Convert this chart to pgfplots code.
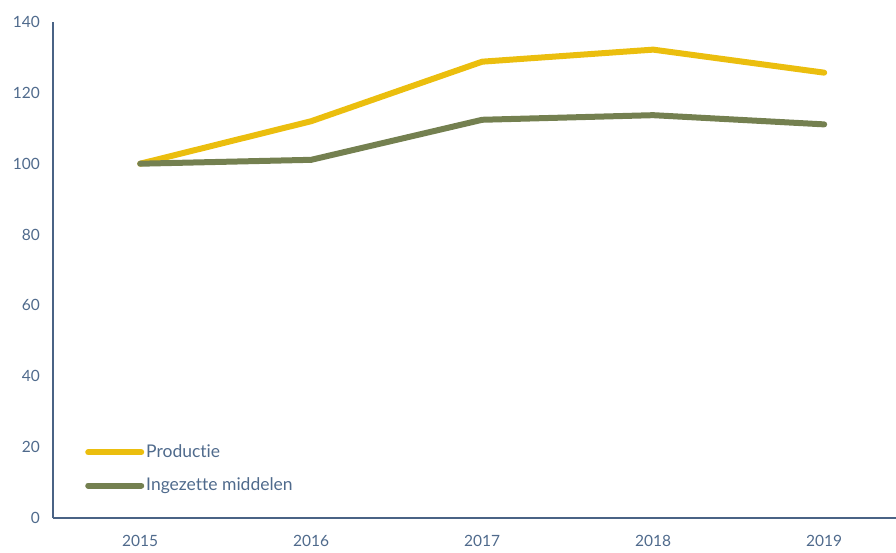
\documentclass[border=0pt]{standalone}
\usepackage{pgfplots}
\pgfplotsset{compat=1.18}
\usepackage{fontspec}
\setmainfont{Lato}[RawFeature={-liga;-dlig}]
\definecolor{txt}{HTML}{4F6A8C}
\definecolor{axc}{HTML}{4A6385}
\definecolor{prod}{HTML}{EBBE0E}
\definecolor{ing}{HTML}{748050}
\begin{document}
\fontsize{15pt}{18pt}\selectfont
\begin{tikzpicture}
\path[use as bounding box] (-53pt,-34pt) rectangle (843pt,518pt);
\begin{axis}[
  at={(0,0)}, anchor=south west,
  scale only axis, width=843pt, height=496pt,
  xmin=2014.49, xmax=2019.42, ymin=0, ymax=140,
  axis x line=bottom, axis y line=left,
  axis line style={axc, line width=1.2pt, -},
  xtick={2015,2016,2017,2018,2019},
  xticklabels={2015,2016,2017,2018,2019},
  ytick={0,20,...,140},
  major tick length=0pt,
  tick label style={txt, font=\fontsize{15.5pt}{18pt}\selectfont},
  /pgf/number format/assume math mode=true,
  /pgf/number format/1000 sep={},
  yticklabel style={xshift=-8pt},
  xticklabel style={yshift=-12pt},
  legend style={draw=none, fill=none, at={(0.038,0.152)}, anchor=north west,
    font=\fontsize{17.5pt}{21pt}\selectfont, text=txt, row sep=14pt,
    inner xsep=0pt, inner ysep=0pt, nodes={inner xsep=2pt}},
  legend cell align=left,
  legend image code/.code={\draw[#1, line width=6pt, line cap=round] (0pt,0pt) -- (53pt,0pt);},
  clip=false,
]
\addplot[prod, line width=6pt, line cap=round, line join=round] coordinates {
(2015,100) (2016,112) (2017,128.8) (2018,132.2) (2019,125.7)};
\addlegendentry{Productie}
\addplot[ing, line width=6pt, line cap=round, line join=round] coordinates {
(2015,100) (2016,101.1) (2017,112.4) (2018,113.7) (2019,111.1)};
\addlegendentry{Ingezette middelen}
\end{axis}
\end{tikzpicture}
\end{document}
